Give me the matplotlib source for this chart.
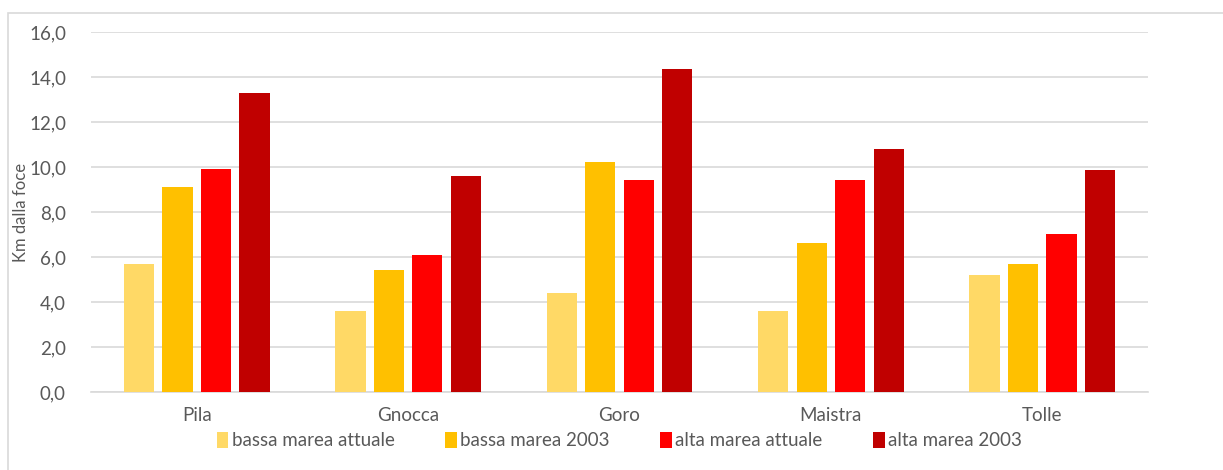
import matplotlib
matplotlib.use("Agg")
import matplotlib.pyplot as plt
import numpy as np
from matplotlib.patches import Rectangle

# Data
categories = ["Pila", "Gnocca", "Goro", "Maistra", "Tolle"]
bassa_attuale = [5.7, 3.6, 4.4, 3.6, 5.2]
bassa_2003 = [9.1, 5.4, 10.2, 6.6, 5.7]
alta_attuale = [9.9, 6.1, 9.4, 9.4, 7.0]
alta_2003 = [13.3, 9.6, 14.35, 10.8, 9.85]

series_names = ["bassa marea attuale", "bassa marea 2003",
                "alta marea attuale", "alta marea 2003"]
colors = ["#FFD966", "#FFC000", "#FF0000", "#C00000"]

plt.rcParams["font.family"] = ["Lato", "DejaVu Sans"]
text_color = "#595959"
grid_color = "#D9D9D9"
fs = 13.5

fig = plt.figure(figsize=(12.23, 4.70), dpi=100)
ax = fig.add_axes([0.0744, 0.166, 0.8643, 0.766])

x = np.arange(len(categories))
step = 0.182
width = 0.143
all_series = [bassa_attuale, bassa_2003, alta_attuale, alta_2003]
for i, (vals, name, c) in enumerate(zip(all_series, series_names, colors)):
    ax.bar(x + (i - 1.5) * step, vals, width, color=c, label=name, zorder=3)

ax.set_xlim(-0.5, len(categories) - 0.5)
ax.set_ylim(0, 16)
ax.set_yticks(np.arange(0, 16.1, 2))
ax.set_yticklabels([("%.1f" % v).replace(".", ",") for v in np.arange(0, 16.1, 2)])
ax.set_xticks(x)
ax.set_xticklabels(categories)
ax.tick_params(axis="both", length=0, labelsize=fs, labelcolor=text_color)
ax.tick_params(axis="y", pad=18)
ax.tick_params(axis="x", pad=11)
ax.grid(axis="y", color=grid_color, linewidth=1.2, zorder=0)
for s in ["top", "right", "left"]:
    ax.spines[s].set_visible(False)
ax.spines["bottom"].set_color(grid_color)
ax.spines["bottom"].set_linewidth(1.2)
ax.spines["bottom"].set_zorder(0)

ax.set_ylabel("Km dalla foce", fontsize=12, color=text_color)
ax.yaxis.set_label_coords(-0.059, 0.5)

ax.legend(loc="upper center", bbox_to_anchor=(0.5, -0.085), ncol=4,
          frameon=False, fontsize=fs, labelcolor=text_color,
          handlelength=0.6, handleheight=0.9, handletextpad=0.2,
          columnspacing=2.7, borderpad=0)

# outer chart border
fig.patches.append(Rectangle((8 / 1223, -0.05), 1.1, 1 - 13 / 470 + 0.05,
                             transform=fig.transFigure, fill=False,
                             edgecolor=grid_color, linewidth=1.2))

fig.savefig("out.png", dpi=100)
